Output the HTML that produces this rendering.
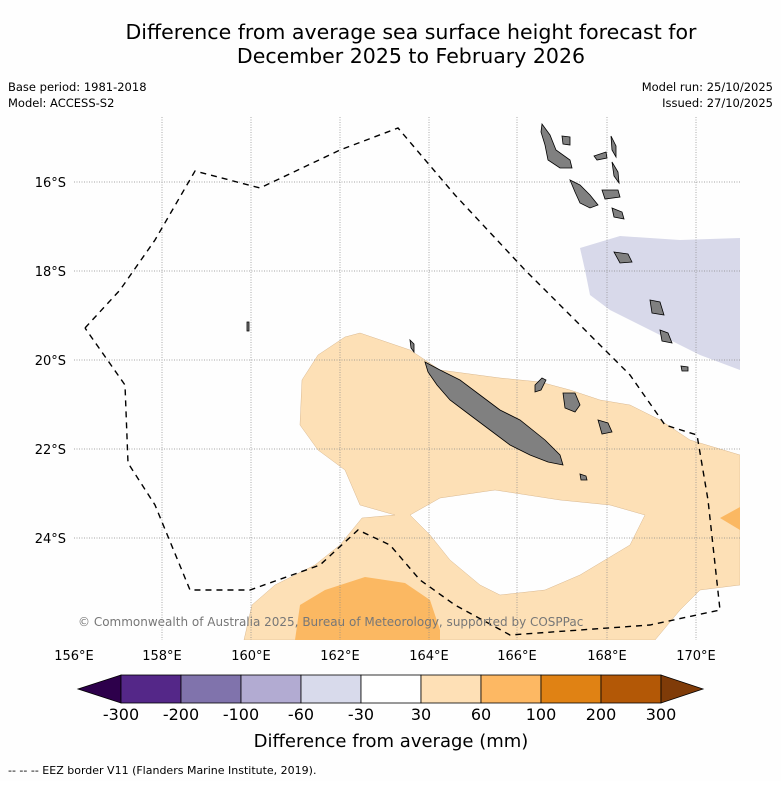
<!DOCTYPE html>
<html><head><meta charset="utf-8"><style>
body{margin:0;background:#fff;width:781px;height:781px;overflow:hidden;font-family:"Liberation Sans","DejaVu Sans",sans-serif}
</style></head><body>
<svg width="781" height="781" viewBox="0 0 781 781" xmlns="http://www.w3.org/2000/svg" font-family="DejaVu Sans, Liberation Sans, sans-serif">
<rect width="781" height="781" fill="#fefefe"/>
<g font-size="20.5" text-anchor="middle" fill="#000">
<text x="411" y="39">Difference from average sea surface height forecast for</text>
<text x="411" y="63">December 2025 to February 2026</text>
</g>
<g font-size="11.5" fill="#000">
<text x="8" y="91">Base period: 1981-2018</text>
<text x="8" y="107">Model: ACCESS-S2</text>
<text x="773" y="91" text-anchor="end">Model run: 25/10/2025</text>
<text x="773" y="107" text-anchor="end">Issued: 27/10/2025</text>
</g>
<defs><clipPath id="mapclip"><rect x="74" y="117" width="666" height="523"/></clipPath></defs>
<g clip-path="url(#mapclip)">
<polygon fill="#fde0b6" stroke="#d9b890" stroke-width="0.5" points="244,640 252,605 275,585 315,565 340,545 362,518 395,515 360,505 345,470 318,450 300,425 302,380 318,355 345,337 360,333 410,350 440,370 500,378 540,382 570,390 600,400 630,405 660,420 690,440 740,455 740,585 700,590 680,610 655,640"/>
<polygon fill="#fefefe" stroke="#d9b890" stroke-width="0.5" points="410,515 440,498 495,490 560,500 610,505 645,515 630,545 605,560 580,575 545,590 500,595 480,585 450,560 430,535"/>
<polygon fill="#fbb862" points="295,640 300,605 325,590 365,577 405,583 430,600 440,630 440,640"/>
<polygon fill="#fbb862" points="720,518 740,507 740,530"/>
<polygon fill="#d8d9ea" points="580,248 620,236 680,240 740,238 740,370 700,355 650,330 610,310 590,295 585,270"/>
<g stroke="#888" stroke-width="0.7" stroke-dasharray="1,1.5">
<line x1="162" y1="117" x2="162" y2="640"/><line x1="251" y1="117" x2="251" y2="640"/><line x1="340" y1="117" x2="340" y2="640"/><line x1="429" y1="117" x2="429" y2="640"/><line x1="517" y1="117" x2="517" y2="640"/><line x1="607" y1="117" x2="607" y2="640"/><line x1="696" y1="117" x2="696" y2="640"/>
<line x1="74" y1="182" x2="740" y2="182"/><line x1="74" y1="271" x2="740" y2="271"/><line x1="74" y1="360" x2="740" y2="360"/><line x1="74" y1="449" x2="740" y2="449"/><line x1="74" y1="538" x2="740" y2="538"/>
</g>
<g fill="#808080" stroke="#000" stroke-width="0.8">
<polygon points="425,362 440,370 460,380 480,395 500,410 520,420 545,440 560,455 563,465 548,462 530,455 510,445 490,430 470,415 450,400 437,385 428,372"/>
<polygon points="542,124 550,135 556,150 570,160 572,168 560,168 548,160 545,145 541,132"/>
<polygon points="562,136 570,137 570,145 563,144"/>
<polygon points="594,156 606,152 607,158 597,160"/>
<polygon points="611,136 616,146 616,157 612,150"/>
<polygon points="612,162 618,172 619,183 614,176"/>
<polygon points="570,180 580,185 590,195 598,205 590,208 580,203 575,192"/>
<polygon points="602,190 618,190 620,197 605,199"/>
<polygon points="612,208 622,212 624,219 614,217"/>
<polygon points="614,252 628,254 632,262 620,263"/>
<polygon points="650,300 660,302 664,315 652,313"/>
<polygon points="660,330 668,333 672,343 662,341"/>
<polygon points="563,393 575,393 580,405 575,412 565,408"/>
<polygon points="598,420 608,423 612,432 602,434"/>
<polygon points="535,385 542,378 546,380 541,390 535,392"/>
<polygon points="580,474 586,476 587,480 581,480"/>
<polygon points="681,366 688,367 688,371 682,371"/>
<polygon points="247,322 249,322 249,331 247,331"/>
<polygon points="410,340 414,344 414,352 411,348"/>
</g>
<polyline fill="none" stroke="#000" stroke-width="1.4" stroke-dasharray="6,5" points="85,328 120,290 155,240 195,171 260,188 340,150 398,128 455,195 525,270 575,320 630,375 665,425 697,435 708,500 720,610 650,625 510,635 455,605 420,580 390,545 358,530 320,565 250,590 190,590 155,505 128,463 125,385 85,328"/>
<text x="78" y="626" font-size="12" fill="#777">© Commonwealth of Australia 2025, Bureau of Meteorology, supported by COSPPac</text>
</g>
<g font-size="13" text-anchor="end" fill="#000">
<text x="66" y="187">16°S</text><text x="66" y="276">18°S</text><text x="66" y="365">20°S</text><text x="66" y="454">22°S</text><text x="66" y="543">24°S</text>
</g>
<g font-size="13" text-anchor="middle" fill="#000">
<text x="74" y="660">156°E</text><text x="162" y="660">158°E</text><text x="251" y="660">160°E</text><text x="340" y="660">162°E</text><text x="429" y="660">164°E</text><text x="517" y="660">166°E</text><text x="607" y="660">168°E</text><text x="696" y="660">170°E</text>
</g>
<g stroke="#000" stroke-width="0.8">
<polygon points="121,675 121,703 78,689" fill="#2d004b"/>
<rect x="121" y="675" width="60" height="28" fill="#542788"/>
<rect x="181" y="675" width="60" height="28" fill="#8073ac"/>
<rect x="241" y="675" width="60" height="28" fill="#b2abd2"/>
<rect x="301" y="675" width="60" height="28" fill="#d8daeb"/>
<rect x="361" y="675" width="60" height="28" fill="#ffffff"/>
<rect x="421" y="675" width="60" height="28" fill="#fee0b6"/>
<rect x="481" y="675" width="60" height="28" fill="#fdb863"/>
<rect x="541" y="675" width="60" height="28" fill="#e08214"/>
<rect x="601" y="675" width="60" height="28" fill="#b35806"/>
<polygon points="661,675 661,703 703,689" fill="#7f3b08"/>
</g>
<g font-size="16" text-anchor="middle" fill="#000">
<text x="121" y="720">-300</text><text x="181" y="720">-200</text><text x="241" y="720">-100</text><text x="301" y="720">-60</text><text x="361" y="720">-30</text><text x="421" y="720">30</text><text x="481" y="720">60</text><text x="541" y="720">100</text><text x="601" y="720">200</text><text x="661" y="720">300</text>
</g>
<text x="391" y="747" font-size="18" text-anchor="middle">Difference from average (mm)</text>
<text x="8" y="774" font-size="11">--  --  -- EEZ border V11 (Flanders Marine Institute, 2019).</text>
</svg>
</body></html>
